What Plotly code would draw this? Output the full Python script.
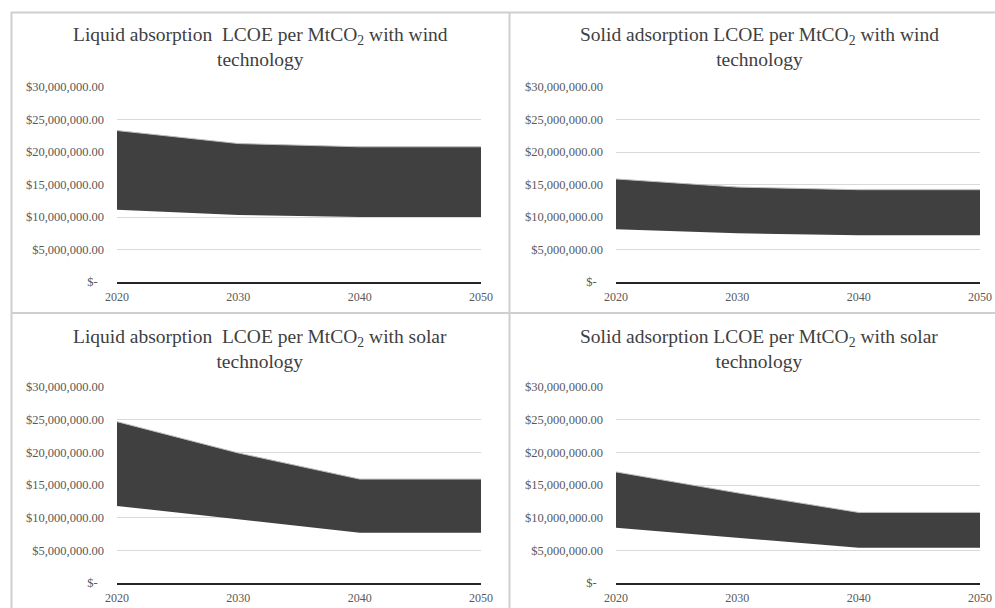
import plotly.graph_objects as go

years = [2020, 2030, 2040, 2050]

titles = [
    "Liquid absorption  LCOE per MtCO<sub>2</sub> with wind<br>technology",
    "Solid adsorption LCOE per MtCO<sub>2</sub> with wind<br>technology",
    "Liquid absorption  LCOE per MtCO<sub>2</sub> with solar<br>technology",
    "Solid adsorption LCOE per MtCO<sub>2</sub> with solar<br>technology",
]

liquid_wind_low = [11.1e6, 10.3e6, 10.0e6, 10.0e6]
liquid_wind_high = [23.3e6, 21.3e6, 20.8e6, 20.8e6]
solid_wind_low = [8.1e6, 7.5e6, 7.2e6, 7.2e6]
solid_wind_high = [15.85e6, 14.6e6, 14.2e6, 14.2e6]
liquid_solar_low = [11.8e6, 9.7e6, 7.7e6, 7.7e6]
liquid_solar_high = [24.7e6, 19.9e6, 15.9e6, 15.9e6]
solid_solar_low = [8.45e6, 6.9e6, 5.4e6, 5.4e6]
solid_solar_high = [17.0e6, 13.8e6, 10.8e6, 10.8e6]

y_ticks = [0, 5e6, 10e6, 15e6, 20e6, 25e6, 30e6]
y_tick_text = ["$-  ", "$5,000,000.00", "$10,000,000.00", "$15,000,000.00",
               "$20,000,000.00", "$25,000,000.00", "$30,000,000.00"]

series = [
    (liquid_wind_low, liquid_wind_high),
    (solid_wind_low, solid_wind_high),
    (liquid_solar_low, liquid_solar_high),
    (solid_solar_low, solid_solar_high),
]

W, H = 995, 608
def px_x(p): return p / W
def px_y(p): return 1 - p / H

# plot areas in pixels: (x0, x1, ytop, ybottom)
areas = [
    (117, 481, 87, 282),
    (616, 980, 87, 282),
    (117, 481, 387, 583),
    (616, 980, 387, 583),
]
title_centers = [(260, 47), (759, 47), (260, 349), (759, 349)]

FONT = "Liberation Serif, Times New Roman, serif"
fig = go.Figure()
layout = {}
for i, ((low, high), (x0, x1, yt, yb)) in enumerate(zip(series, areas)):
    n = "" if i == 0 else str(i + 1)
    xa, ya = "x" + n, "y" + n
    fig.add_trace(go.Scatter(x=years, y=low, mode="lines", line=dict(width=0, color="rgba(0,0,0,0)"),
                             xaxis=xa, yaxis=ya, showlegend=False, hoverinfo="skip"))
    fig.add_trace(go.Scatter(x=years, y=high, mode="lines", fill="tonexty", fillcolor="#404040",
                             line=dict(width=1, color="#bdbdbd"),
                             xaxis=xa, yaxis=ya, showlegend=False))
    layout["xaxis" + n] = dict(domain=[px_x(x0), px_x(x1)], anchor=ya, range=[2020, 2050],
                               tickvals=years, ticktext=[str(y) for y in years],
                               showgrid=False, zeroline=False, showline=True, automargin=False,
                               linecolor="#262626", linewidth=2, ticks="",
                               ticklabelstandoff=3,
                               tickfont=dict(family=FONT, size=12, color="#595959"))
    layout["yaxis" + n] = dict(domain=[px_y(yb), px_y(yt)], anchor=xa, range=[0, 30e6],
                               tickvals=y_ticks, ticktext=y_tick_text, automargin=False,
                               showgrid=True, gridcolor="#d9d9d9", gridwidth=1,
                               zeroline=False, showline=False, ticks="",
                               tickfont=dict(family=FONT, size=12.5, color="#595959"),
                               ticklabelstandoff=12)

annotations = []
for t, (cx, cy) in zip(titles, title_centers):
    annotations.append(dict(text=t, x=px_x(cx), y=px_y(cy), xref="paper", yref="paper",
                            showarrow=False, xanchor="center", yanchor="middle",
                            font=dict(family=FONT, size=19.5, color="#404040")))

border = "#cfcfcf"
shapes = [
    dict(type="line", xref="paper", yref="paper", x0=px_x(11.5), x1=px_x(11.5), y0=px_y(12), y1=0,
         line=dict(color=border, width=2)),
    dict(type="line", xref="paper", yref="paper", x0=px_x(11), x1=1, y0=px_y(12.5), y1=px_y(12.5),
         line=dict(color=border, width=2)),
    dict(type="line", xref="paper", yref="paper", x0=px_x(509.5), x1=px_x(509.5), y0=px_y(12), y1=0,
         line=dict(color=border, width=2)),
    dict(type="line", xref="paper", yref="paper", x0=px_x(11), x1=1, y0=px_y(313), y1=px_y(313),
         line=dict(color=border, width=2)),
]

fig.update_layout(width=W, height=H, margin=dict(l=0, r=0, t=0, b=0, autoexpand=False),
                  paper_bgcolor="white", plot_bgcolor="white",
                  annotations=annotations, shapes=shapes, **layout)
fig.write_html("out.html", config={"displayModeBar": False},
               post_script="document.body.style.margin='0';document.body.style.overflow='hidden';")
